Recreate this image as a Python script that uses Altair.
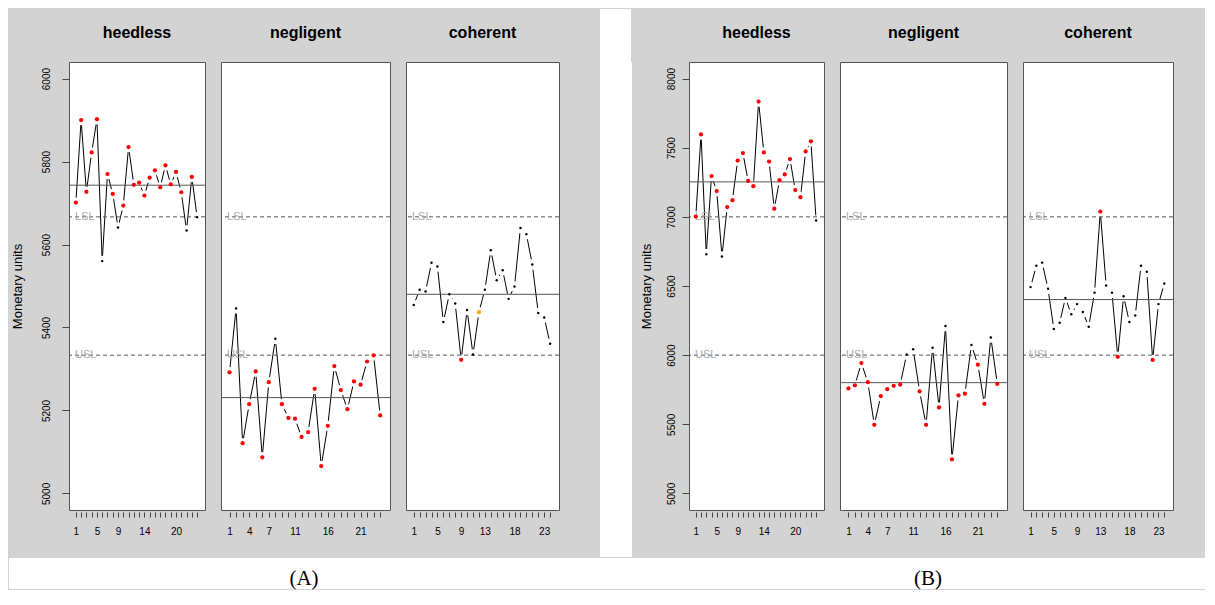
import altair as alt
import pandas as pd

# ---------------- data ----------------
IDX = list(range(1, 25))

A_HEEDLESS = [5701, 5900, 5727, 5822, 5902, 5560, 5770, 5722, 5641, 5694, 5835, 5744,
              5749, 5718, 5761, 5779, 5738, 5791, 5745, 5775, 5726, 5634, 5763, 5666]
A_HEEDLESS_C = "rrrrrkrrkrrrrrrrrrrrrkrk"
A_NEGLIGENT = [5292, 5446, 5121, 5215, 5294, 5087, 5268, 5373, 5215, 5182, 5180, 5136,
               5148, 5252, 5066, 5163, 5307, 5249, 5203, 5270, 5262, 5318, 5333, 5188]
A_NEGLIGENT_C = "rkrrrrrkrrrrrrrrrrrrrrrr"
A_COHERENT = [5454, 5491, 5487, 5556, 5547, 5413, 5480, 5458, 5322, 5442, 5335, 5437,
              5491, 5586, 5514, 5538, 5469, 5499, 5640, 5625, 5552, 5435, 5424, 5361]
A_COHERENT_C = "kkkkkkkkrkkokkkkkkkkkkkk"
A_MEANS = [5743, 5231, 5480]
A_LSL, A_USL = 5666.7, 5333.3
A_YTICKS = [5000, 5200, 5400, 5600, 5800, 6000]
A_YDOM = [4960, 6040]

B_HEEDLESS = [7002, 7596, 6730, 7295, 7187, 6714, 7071, 7121, 7407, 7461, 7260, 7222,
              7834, 7466, 7400, 7059, 7265, 7307, 7418, 7194, 7142, 7473, 7546, 6974]
B_HEEDLESS_C = "rrkrrkrrrrrrrrrrrrrrrrrk"
B_NEGLIGENT = [5759, 5782, 5943, 5804, 5496, 5704, 5754, 5778, 5787, 6005, 6042, 5738,
               5496, 6054, 5622, 6210, 5246, 5709, 5721, 6073, 5931, 5648, 6128, 5792]
B_NEGLIGENT_C = "rrrrrrrrrkkrrkrkrrrkrrkr"
B_COHERENT = [6492, 6646, 6669, 6480, 6189, 6234, 6414, 6296, 6369, 6312, 6206, 6452,
              7038, 6504, 6452, 5988, 6426, 6239, 6286, 6646, 6603, 5965, 6369, 6518]
B_COHERENT_C = "kkkkkkkkkkkkrkkrkkkkkrkk"
B_MEANS = [7253, 5801, 6402]
B_LSL, B_USL = 7000, 6000
B_YTICKS = [5000, 5500, 6000, 6500, 7000, 7500, 8000]
B_YDOM = [4880, 8120]

NAMES = ["heedless", "negligent", "coherent"]
XLABELS = [[1, 5, 9, 14, 20], [1, 4, 7, 11, 16, 21], [1, 5, 9, 13, 18, 23]]
XDOM = [-0.3, 25.5]
CAPTIONS = ["(A)", "(B)"]

GRAY = "#d3d3d3"
PLOT_H = 448
TOP_EXT = 53          # band above the plot boxes (facet titles)
ROW_H = 494           # plot-row height below the plot tops
CAP_H = 30
CAP_W = 1195


def facet(name, vals, cols, mean, lsl, usl, ydom, yticks, xlabels, w,
          label_pad=None, title_pad=None):
    df = pd.DataFrame({"i": IDX, "v": vals, "c": list(cols)})
    ref = pd.DataFrame({"v": [lsl, usl], "lab": ["LSL", "USL"]})
    mref = pd.DataFrame({"v": [mean]})

    if title_pad is not None:
        yaxis = alt.Axis(values=yticks, format="d", labelAngle=270, labelAlign="center",
                         labelBaseline="bottom", tickSize=7, labelPadding=label_pad,
                         labelFontSize=10, labelColor="black", title="Monetary units",
                         titleFontSize=13, titleFontWeight="normal", titleColor="black",
                         titlePadding=title_pad, domain=False, grid=False,
                         tickColor="#444", labelOverlap=False)
    else:
        yaxis = None
    xaxis = alt.Axis(values=IDX, labelExpr=f"indexof({xlabels}, datum.value) >= 0 ? datum.label : ''",
                     tickSize=5, offset=2, labelPadding=9, labelFontSize=10,
                     labelColor="black", domain=False, grid=False, tickColor="#444",
                     labelOverlap=False, labelFlush=False, title=None)
    X = alt.X("i:Q", scale=alt.Scale(domain=XDOM, nice=False, zero=False), axis=xaxis)
    Y = alt.Y("v:Q", scale=alt.Scale(domain=ydom, nice=False, zero=False), axis=yaxis)

    base = alt.Chart(df).encode(x=X, y=Y)
    line = base.mark_line(color="black", strokeWidth=1, clip=True)
    halo = base.mark_circle(color="white", size=110, opacity=1, clip=True)
    refl = alt.Chart(ref).mark_rule(color="#555", strokeDash=[4, 3], strokeWidth=1).encode(y=Y)
    meanl = alt.Chart(mref).mark_rule(color="#555", strokeWidth=1).encode(y=Y)
    txt = alt.Chart(ref).mark_text(align="left", baseline="middle", fontSize=11,
                                   color="#aaaaaa").encode(x=alt.value(6), y=Y, text="lab:N")
    big = base.transform_filter("datum.c != 'k'").mark_circle(size=18, opacity=1).encode(
        color=alt.Color("c:N", scale=alt.Scale(domain=["r", "o", "k"],
                                              range=["#ff0000", "#ffa500", "#000000"]),
                        legend=None))
    small = base.transform_filter("datum.c == 'k'").mark_circle(size=6, color="black", opacity=1)

    return alt.layer(line, halo, refl, meanl, txt, big, small).properties(
        width=w, height=PLOT_H,
        title=alt.TitleParams(text=name, fontSize=16, fontWeight="bold",
                              font="Liberation Sans", offset=21,
                              color="black", anchor="middle"))


def spacer(w):
    c = alt.Chart(pd.DataFrame({"z": [0]})).mark_point(opacity=0, size=1).encode(
        x=alt.value(0), y=alt.value(0))
    return c.properties(width=w, height=1,
                        view=alt.ViewBackground(fillOpacity=0, strokeOpacity=0))


def white_gap(w):
    # white strip between the two grey panels, reaching up over the title band
    c = alt.Chart(pd.DataFrame({"z": [0]})).mark_rect(color="white", clip=False).encode(
        x=alt.value(0), x2=alt.value(w), y=alt.value(-TOP_EXT), y2=alt.value(ROW_H))
    return c.properties(width=w, height=ROW_H,
                        view=alt.ViewBackground(fill="white", stroke="white"))


def caption_row():
    layers = []
    for text, xc in zip(CAPTIONS, [295, 919]):
        layers.append(alt.Chart(pd.DataFrame({"t": [text]})).mark_text(
            font="Liberation Serif", fontSize=21, color="black", align="center",
            baseline="middle").encode(text="t:N", x=alt.value(xc), y=alt.value(21)))
    return alt.layer(*layers).properties(
        width=CAP_W, height=CAP_H,
        view=alt.ViewBackground(fill="white", stroke="white"))


A_VALS = [A_HEEDLESS, A_NEGLIGENT, A_COHERENT]
A_COLS = [A_HEEDLESS_C, A_NEGLIGENT_C, A_COHERENT_C]
B_VALS = [B_HEEDLESS, B_NEGLIGENT, B_COHERENT]
B_COLS = [B_HEEDLESS_C, B_NEGLIGENT_C, B_COHERENT_C]
A_W = [136, 169, 153]
B_W = [135, 167, 150]

panelA = alt.hconcat(*[
    facet(NAMES[k], A_VALS[k], A_COLS[k], A_MEANS[k], A_LSL, A_USL, A_YDOM, A_YTICKS,
          XLABELS[k], A_W[k],
          label_pad=(11 if k == 0 else None), title_pad=(17 if k == 0 else None))
    for k in range(3)], spacing=14)

panelB = alt.hconcat(*[
    facet(NAMES[k], B_VALS[k], B_COLS[k], B_MEANS[k], B_LSL, B_USL, B_YDOM, B_YTICKS,
          XLABELS[k], B_W[k],
          label_pad=(6 if k == 0 else None), title_pad=(13 if k == 0 else None))
    for k in range(3)], spacing=14)

top = alt.hconcat(spacer(1), panelA, spacer(38), white_gap(31), spacer(6),
                  panelB, spacer(17), spacing=0)

chart = alt.vconcat(top, caption_row(), spacing=0).properties(
    padding=0, background=GRAY
).configure(font="Liberation Sans").configure_view(stroke="#555", strokeWidth=1, fill="white")

chart.save("out.html", embed_options={"renderer": "svg", "actions": False})
